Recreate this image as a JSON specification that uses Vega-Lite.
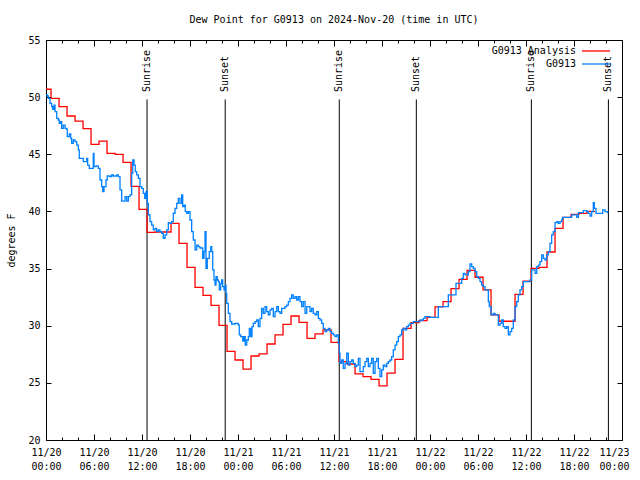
{
"$schema": "https://vega.github.io/schema/vega-lite/v6.json",
"width": 576, "height": 400,
"autosize": "none",
"padding": {"left": 46, "top": 40, "right": 18, "bottom": 40},
"background": "white",
"config": {"font": "DejaVu Sans Mono", "view": {"stroke": "black", "strokeWidth": 1},
  "axis": {"domain": false, "grid": false, "labelFont": "DejaVu Sans Mono", "labelFontSize": 10, "labelColor": "black", "tickColor": "black", "tickWidth": 1, "labelOverlap": false, "labelFlush": false, "labelBound": false}},
"title": {"text": "Dew Point for G0913 on 2024-Nov-20 (time in UTC)", "font": "DejaVu Sans Mono", "fontSize": 10, "fontWeight": "normal", "anchor": "middle", "offset": 10, "color": "black"},
"datasets": {
"sun": [{"h":12.63,"label":"Sunrise"},{"h":22.4,"label":"Sunset"},{"h":36.66,"label":"Sunrise"},{"h":46.29,"label":"Sunset"},{"h":60.67,"label":"Sunrise"},{"h":70.3,"label":"Sunset"}],
"ana": [{"h":0,"v":50.69},{"h":0.63,"v":49.9},{"h":1.63,"v":49.17},{"h":2.63,"v":48.35},{"h":3.63,"v":47.9},{"h":4.63,"v":47.24},{"h":5.63,"v":45.87},{"h":6.63,"v":46.16},{"h":7.63,"v":45.08},{"h":8.63,"v":45.0},{"h":9.63,"v":44.3},{"h":10.63,"v":42.2},{"h":11.63,"v":40.18},{"h":12.63,"v":38.17},{"h":13.63,"v":38.2},{"h":14.63,"v":38.2},{"h":15.63,"v":38.96},{"h":16.63,"v":37.21},{"h":17.63,"v":35.1},{"h":18.63,"v":33.36},{"h":19.63,"v":32.66},{"h":20.63,"v":31.78},{"h":21.63,"v":30.03},{"h":22.63,"v":27.76},{"h":23.63,"v":27.0},{"h":24.63,"v":26.21},{"h":25.63,"v":27.35},{"h":26.63,"v":27.53},{"h":27.63,"v":28.4},{"h":28.63,"v":29.19},{"h":29.63,"v":30.12},{"h":30.63,"v":30.85},{"h":31.63,"v":30.3},{"h":32.63,"v":28.9},{"h":33.63,"v":29.28},{"h":34.63,"v":29.63},{"h":35.63,"v":28.55},{"h":36.63,"v":26.86},{"h":37.63,"v":26.65},{"h":38.63,"v":25.78},{"h":39.63,"v":25.55},{"h":40.63,"v":25.31},{"h":41.63,"v":24.73},{"h":42.63,"v":25.85},{"h":43.63,"v":27.06},{"h":44.63,"v":29.77},{"h":45.63,"v":30.27},{"h":46.63,"v":30.44},{"h":47.63,"v":30.73},{"h":48.63,"v":31.64},{"h":49.63,"v":32.1},{"h":50.63,"v":33.24},{"h":51.63,"v":34.06},{"h":52.63,"v":34.85},{"h":53.63,"v":34.24},{"h":54.63,"v":33.13},{"h":55.63,"v":30.94},{"h":56.63,"v":30.39},{"h":57.63,"v":30.39},{"h":58.63,"v":32.75},{"h":59.63,"v":33.91},{"h":60.63,"v":35.02},{"h":61.63,"v":35.1},{"h":62.63,"v":36.45},{"h":63.63,"v":38.52},{"h":64.63,"v":39.48},{"h":65.63,"v":39.74},{"h":66.63,"v":39.83},{"h":67.63,"v":40.0},{"h":68.63,"v":40.0}],
"obs": [{"h":0.00,"v":50.19},{"h":0.16,"v":50.10},{"h":0.29,"v":49.90},{"h":0.50,"v":49.46},{"h":0.71,"v":49.17},{"h":0.84,"v":48.93},{"h":1.00,"v":49.31},{"h":1.13,"v":48.73},{"h":1.34,"v":48.15},{"h":1.54,"v":48.00},{"h":1.66,"v":47.71},{"h":1.84,"v":47.86},{"h":1.96,"v":47.27},{"h":2.16,"v":47.56},{"h":2.38,"v":47.27},{"h":2.59,"v":47.18},{"h":2.66,"v":46.54},{"h":2.91,"v":46.78},{"h":3.09,"v":46.40},{"h":3.21,"v":45.96},{"h":3.41,"v":46.25},{"h":3.63,"v":46.11},{"h":3.84,"v":45.81},{"h":4.04,"v":45.38},{"h":4.16,"v":44.65},{"h":4.66,"v":44.36},{"h":5.09,"v":44.65},{"h":5.21,"v":44.06},{"h":5.41,"v":43.77},{"h":5.91,"v":45.08},{"h":6.00,"v":43.92},{"h":6.25,"v":43.98},{"h":6.54,"v":43.77},{"h":6.75,"v":42.75},{"h":6.96,"v":42.17},{"h":7.09,"v":41.73},{"h":7.25,"v":42.17},{"h":7.50,"v":42.75},{"h":7.66,"v":43.10},{"h":8.00,"v":43.04},{"h":8.21,"v":43.19},{"h":8.41,"v":43.10},{"h":8.84,"v":43.19},{"h":9.04,"v":43.04},{"h":9.25,"v":41.88},{"h":9.46,"v":40.91},{"h":9.88,"v":41.29},{"h":10.09,"v":40.91},{"h":10.29,"v":41.29},{"h":10.50,"v":41.44},{"h":10.71,"v":43.33},{"h":10.84,"v":44.50},{"h":11.00,"v":44.06},{"h":11.16,"v":43.48},{"h":11.34,"v":43.19},{"h":11.54,"v":42.90},{"h":11.75,"v":42.17},{"h":11.96,"v":42.02},{"h":12.16,"v":41.58},{"h":12.34,"v":41.15},{"h":12.50,"v":41.73},{"h":12.66,"v":40.71},{"h":12.79,"v":39.69},{"h":13.00,"v":39.11},{"h":13.21,"v":38.81},{"h":13.41,"v":38.38},{"h":13.63,"v":38.52},{"h":13.84,"v":38.23},{"h":14.04,"v":38.38},{"h":14.25,"v":38.23},{"h":14.46,"v":38.09},{"h":14.66,"v":37.65},{"h":14.88,"v":37.94},{"h":15.09,"v":38.38},{"h":15.29,"v":39.02},{"h":15.50,"v":38.96},{"h":15.71,"v":39.11},{"h":15.91,"v":39.84},{"h":16.13,"v":40.27},{"h":16.34,"v":40.71},{"h":16.54,"v":41.15},{"h":16.75,"v":40.71},{"h":16.96,"v":41.44},{"h":17.09,"v":40.42},{"h":17.25,"v":40.56},{"h":17.41,"v":39.98},{"h":17.59,"v":39.84},{"h":17.79,"v":39.98},{"h":18.00,"v":39.25},{"h":18.21,"v":38.23},{"h":18.41,"v":37.50},{"h":18.63,"v":36.63},{"h":18.84,"v":37.06},{"h":19.04,"v":36.92},{"h":19.25,"v":36.80},{"h":19.59,"v":35.90},{"h":19.75,"v":36.48},{"h":19.88,"v":38.23},{"h":20.00,"v":35.02},{"h":20.16,"v":35.90},{"h":20.41,"v":36.48},{"h":20.59,"v":36.92},{"h":20.71,"v":36.48},{"h":20.84,"v":34.88},{"h":21.00,"v":34.00},{"h":21.13,"v":33.56},{"h":21.25,"v":34.29},{"h":21.41,"v":34.00},{"h":21.54,"v":33.86},{"h":21.66,"v":33.13},{"h":21.84,"v":33.71},{"h":21.96,"v":34.00},{"h":22.09,"v":33.42},{"h":22.25,"v":33.13},{"h":22.41,"v":33.56},{"h":22.50,"v":32.83},{"h":22.59,"v":31.96},{"h":22.79,"v":31.08},{"h":23.00,"v":30.36},{"h":23.21,"v":30.15},{"h":23.63,"v":30.21},{"h":24.04,"v":30.06},{"h":24.16,"v":29.19},{"h":24.34,"v":29.04},{"h":24.59,"v":28.66},{"h":24.75,"v":29.04},{"h":24.91,"v":28.31},{"h":25.09,"v":28.75},{"h":25.29,"v":29.04},{"h":25.41,"v":29.77},{"h":25.59,"v":29.04},{"h":25.75,"v":29.92},{"h":25.91,"v":30.21},{"h":26.13,"v":30.36},{"h":26.34,"v":30.50},{"h":26.54,"v":29.92},{"h":26.75,"v":30.65},{"h":26.96,"v":31.52},{"h":27.16,"v":31.08},{"h":27.38,"v":31.67},{"h":27.59,"v":31.23},{"h":27.79,"v":30.94},{"h":28.00,"v":31.38},{"h":28.21,"v":31.52},{"h":28.41,"v":30.79},{"h":28.63,"v":31.23},{"h":28.84,"v":31.67},{"h":29.04,"v":31.23},{"h":29.25,"v":31.08},{"h":29.46,"v":31.52},{"h":29.88,"v":31.67},{"h":30.09,"v":31.81},{"h":30.29,"v":32.10},{"h":30.50,"v":32.40},{"h":30.71,"v":32.69},{"h":30.91,"v":32.40},{"h":31.13,"v":32.54},{"h":31.34,"v":32.25},{"h":31.54,"v":32.54},{"h":31.75,"v":32.10},{"h":31.96,"v":31.67},{"h":32.16,"v":32.10},{"h":32.38,"v":31.08},{"h":32.59,"v":31.67},{"h":33.00,"v":31.23},{"h":33.21,"v":31.52},{"h":33.41,"v":31.08},{"h":33.63,"v":30.94},{"h":33.84,"v":31.23},{"h":34.04,"v":30.65},{"h":34.25,"v":30.50},{"h":34.46,"v":30.21},{"h":34.66,"v":29.77},{"h":34.88,"v":29.48},{"h":35.09,"v":29.63},{"h":35.29,"v":29.77},{"h":35.50,"v":29.48},{"h":35.71,"v":29.33},{"h":35.91,"v":29.19},{"h":36.13,"v":29.04},{"h":36.34,"v":29.19},{"h":36.54,"v":28.46},{"h":36.66,"v":27.59},{"h":36.75,"v":26.71},{"h":36.96,"v":27.00},{"h":37.16,"v":26.27},{"h":37.38,"v":26.71},{"h":37.59,"v":27.59},{"h":37.79,"v":26.56},{"h":38.00,"v":26.86},{"h":38.21,"v":27.00},{"h":38.41,"v":26.71},{"h":38.63,"v":26.42},{"h":38.84,"v":26.56},{"h":39.04,"v":27.15},{"h":39.25,"v":25.98},{"h":39.66,"v":26.42},{"h":39.88,"v":26.86},{"h":40.09,"v":27.15},{"h":40.29,"v":26.42},{"h":40.50,"v":26.71},{"h":40.71,"v":27.15},{"h":40.91,"v":25.83},{"h":41.13,"v":26.86},{"h":41.34,"v":27.15},{"h":41.54,"v":26.27},{"h":41.75,"v":25.54},{"h":41.96,"v":26.13},{"h":42.16,"v":26.56},{"h":42.38,"v":26.42},{"h":42.59,"v":26.71},{"h":42.79,"v":26.86},{"h":43.00,"v":27.00},{"h":43.21,"v":27.29},{"h":43.41,"v":27.88},{"h":43.63,"v":28.31},{"h":43.84,"v":28.61},{"h":44.04,"v":29.04},{"h":44.25,"v":29.19},{"h":44.46,"v":29.63},{"h":44.66,"v":29.77},{"h":44.88,"v":29.63},{"h":45.09,"v":29.92},{"h":45.29,"v":30.06},{"h":45.50,"v":30.21},{"h":45.91,"v":30.36},{"h":46.75,"v":30.50},{"h":47.16,"v":30.65},{"h":47.38,"v":30.79},{"h":48.00,"v":30.73},{"h":49.04,"v":31.67},{"h":50.29,"v":32.69},{"h":51.25,"v":33.71},{"h":51.96,"v":34.15},{"h":52.16,"v":34.58},{"h":52.38,"v":34.44},{"h":52.79,"v":34.73},{"h":53.00,"v":35.40},{"h":53.21,"v":35.17},{"h":53.41,"v":35.02},{"h":53.63,"v":34.73},{"h":53.84,"v":34.29},{"h":54.04,"v":34.15},{"h":54.25,"v":33.86},{"h":54.46,"v":33.56},{"h":54.66,"v":33.42},{"h":54.88,"v":33.13},{"h":55.29,"v":32.10},{"h":55.41,"v":31.67},{"h":55.63,"v":30.94},{"h":55.91,"v":31.08},{"h":56.13,"v":30.94},{"h":56.54,"v":30.06},{"h":56.75,"v":30.21},{"h":56.96,"v":30.50},{"h":57.16,"v":29.92},{"h":57.38,"v":29.77},{"h":57.59,"v":29.92},{"h":57.79,"v":29.19},{"h":58.00,"v":29.48},{"h":58.21,"v":29.77},{"h":58.41,"v":30.50},{"h":58.63,"v":31.67},{"h":58.84,"v":32.10},{"h":59.04,"v":32.69},{"h":59.25,"v":33.13},{"h":59.46,"v":33.42},{"h":59.66,"v":33.86},{"h":60.50,"v":34.00},{"h":60.71,"v":34.88},{"h":61.13,"v":34.58},{"h":61.34,"v":35.17},{"h":61.54,"v":35.31},{"h":61.75,"v":35.60},{"h":61.96,"v":36.19},{"h":62.16,"v":35.90},{"h":62.38,"v":35.75},{"h":62.59,"v":36.19},{"h":62.79,"v":36.48},{"h":63.00,"v":37.21},{"h":63.21,"v":37.94},{"h":63.41,"v":38.23},{"h":63.63,"v":39.02},{"h":63.84,"v":39.10},{"h":64.04,"v":38.96},{"h":64.25,"v":39.10},{"h":64.46,"v":39.31},{"h":64.59,"v":39.48},{"h":65.71,"v":39.69},{"h":66.34,"v":39.48},{"h":66.54,"v":39.89},{"h":67.16,"v":40.07},{"h":67.59,"v":39.98},{"h":67.79,"v":39.83},{"h":68.00,"v":39.60},{"h":68.21,"v":39.98},{"h":68.41,"v":40.77},{"h":68.54,"v":40.27},{"h":68.75,"v":39.83},{"h":69.59,"v":40.13},{"h":69.88,"v":39.98},{"h":70.21,"v":39.83}]
},
"layer": [
 {"data": {"name": "sun"}, "mark": {"type": "rule", "color": "black", "strokeWidth": 1},
  "encoding": {"x": {"field": "h", "type": "quantitative", "axis": null, "scale": {"domain": [0, 72], "nice": false, "zero": false}},
   "y": {"datum": 49.8, "type": "quantitative", "axis": null, "scale": {"domain": [20, 55], "nice": false, "zero": false}}, "y2": {"datum": 20}}},
 {"data": {"name": "sun"}, "mark": {"type": "text", "angle": 270, "align": "left", "baseline": "middle", "fontSize": 10, "font": "DejaVu Sans Mono", "color": "black"},
  "encoding": {"x": {"field": "h", "type": "quantitative", "axis": null}, "y": {"datum": 50.45, "type": "quantitative", "axis": null}, "text": {"field": "label"}}},
 {"data": {"name": "ana"}, "mark": {"type": "line", "interpolate": "step-after", "strokeWidth": 1.3},
  "encoding": {"x": {"field": "h", "type": "quantitative", "axis": {"orient": "top", "title": null, "labels": false, "values": [0,2,4,6,8,10,12,14,16,18,20,22,24,26,28,30,32,34,36,38,40,42,44,46,48,50,52,54,56,58,60,62,64,66,68,70,72], "tickSize": {"condition": {"test": "datum.value % 6 === 0", "value": -6}, "value": -3}}},
   "y": {"field": "v", "type": "quantitative", "axis": {"orient": "right", "title": null, "labels": false, "values": [20,25,30,35,40,45,50,55], "tickSize": -5}},
   "color": {"datum": "G0913 Analysis", "scale": {"domain": ["G0913 Analysis", "G0913"], "range": ["#ff0000", "#0080ff"]},
    "legend": {"orient": "none", "legendX": 542, "legendY": 3, "title": null, "labelAlign": "right", "labelOffset": -28, "symbolType": "M-2,0H2", "symbolSize": 196, "symbolStrokeWidth": 1.3, "labelFontSize": 10, "labelFont": "DejaVu Sans Mono", "labelColor": "black", "rowPadding": 0, "padding": 0,
     "encode": {"symbols": {"update": {"stroke": {"scale": "color", "field": "value"}}}}}}}},
 {"data": {"name": "obs"}, "mark": {"type": "line", "interpolate": "step-after", "strokeWidth": 1.3},
  "encoding": {"x": {"field": "h", "type": "quantitative", "axis": {"orient": "bottom", "title": null, "values": [0,2,4,6,8,10,12,14,16,18,20,22,24,26,28,30,32,34,36,38,40,42,44,46,48,50,52,54,56,58,60,62,64,66,68,70,72], "tickSize": {"condition": {"test": "datum.value % 6 === 0", "value": -6}, "value": -3}, "labelPadding": 13, "labelLineHeight": 14, "labelOffset": {"condition": {"test": "datum.value === 72", "value": -8}, "value": 0}, "labelExpr": "datum.value % 6 === 0 ? ['11/' + (20 + floor(datum.value / 24)), ((datum.value % 24) < 10 ? '0' : '') + (datum.value % 24) + ':00'] : ''"}},
   "y": {"field": "v", "type": "quantitative", "axis": {"orient": "left", "title": "degrees F", "values": [20,25,30,35,40,45,50,55], "tickSize": -5, "labelPadding": 11, "titleFont": "DejaVu Sans Mono", "titleFontSize": 10, "titleFontWeight": "normal", "titleColor": "black", "titleAngle": 270, "titleX": -35, "titleY": 200, "titleAlign": "center", "titleBaseline": "middle"}},
   "color": {"datum": "G0913"}}}
],
"resolve": {"axis": {"x": "independent", "y": "independent"}}
}
